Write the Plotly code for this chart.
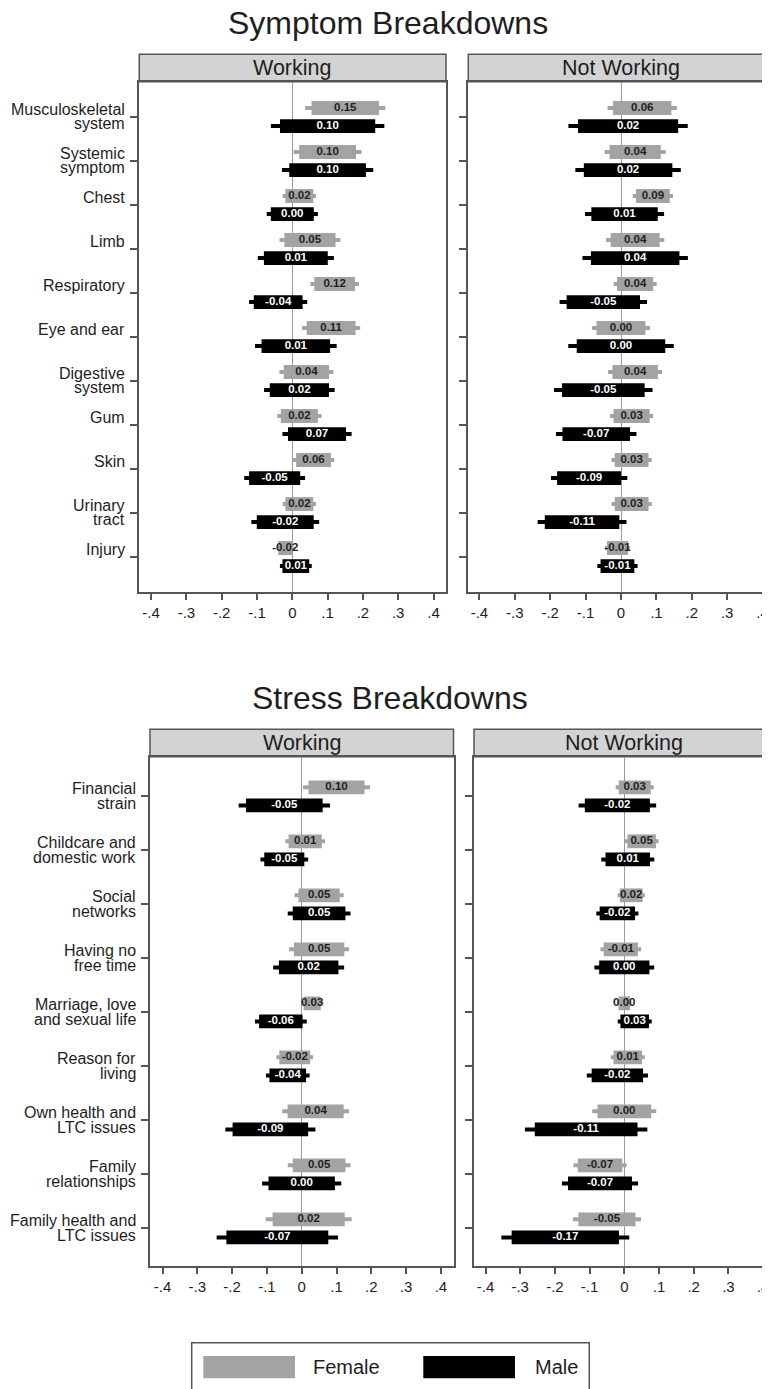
import plotly.graph_objects as go

# The page body has an 8px margin, so the figure is offset by (8, 8).
OX, OY = 8, 8
W, H = 762, 1381

# ---------------- data ----------------
sym_labels = ["Musculoskeletal<br>system", "Systemic<br>symptom", "Chest", "Limb",
              "Respiratory", "Eye and ear", "Digestive<br>system", "Gum", "Skin",
              "Urinary<br>tract", "Injury"]

sym_work_f_est = [0.15, 0.10, 0.02, 0.05, 0.12, 0.11, 0.04, 0.02, 0.06, 0.02, -0.02]
sym_work_f_se = [0.058, 0.049, 0.024, 0.044, 0.035, 0.042, 0.039, 0.032, 0.030, 0.024, 0.012]
sym_work_m_est = [0.10, 0.10, 0.00, 0.01, -0.04, 0.01, 0.02, 0.07, -0.05, -0.02, 0.01]
sym_work_m_se = [0.082, 0.066, 0.037, 0.055, 0.042, 0.059, 0.051, 0.050, 0.044, 0.049, 0.023]

sym_nw_f_est = [0.06, 0.04, 0.09, 0.04, 0.04, 0.00, 0.04, 0.03, 0.03, 0.03, -0.01]
sym_nw_f_se = [0.050, 0.044, 0.029, 0.042, 0.031, 0.042, 0.039, 0.031, 0.029, 0.029, 0.018]
sym_nw_m_est = [0.02, 0.02, 0.01, 0.04, -0.05, 0.00, -0.05, -0.07, -0.09, -0.11, -0.01]
sym_nw_m_se = [0.086, 0.076, 0.057, 0.076, 0.063, 0.076, 0.071, 0.058, 0.055, 0.064, 0.029]

str_labels = ["Financial<br>strain", "Childcare and<br>domestic work", "Social<br>networks",
              "Having no<br>free time", "Marriage, love<br>and sexual life", "Reason for<br>living",
              "Own health and<br>LTC issues", "Family<br>relationships",
              "Family health and<br>LTC issues"]

str_work_f_est = [0.10, 0.01, 0.05, 0.05, 0.03, -0.02, 0.04, 0.05, 0.02]
str_work_f_se = [0.049, 0.029, 0.036, 0.044, 0.015, 0.027, 0.049, 0.046, 0.063]
str_work_m_est = [-0.05, -0.05, 0.05, 0.02, -0.06, -0.04, -0.09, 0.00, -0.07]
str_work_m_se = [0.067, 0.035, 0.046, 0.052, 0.038, 0.032, 0.066, 0.058, 0.089]

str_nw_f_est = [0.03, 0.05, 0.02, -0.01, 0.00, 0.01, 0.00, -0.07, -0.05]
str_nw_f_se = [0.028, 0.025, 0.020, 0.030, 0.010, 0.025, 0.047, 0.039, 0.050]
str_nw_m_est = [-0.02, 0.01, -0.02, 0.00, 0.03, -0.02, -0.11, -0.07, -0.17]
str_nw_m_se = [0.057, 0.039, 0.031, 0.044, 0.025, 0.045, 0.090, 0.056, 0.094]

x_tickvals = [-0.4, -0.3, -0.2, -0.1, 0, 0.1, 0.2, 0.3, 0.4]
x_ticktext = ["-.4", "-.3", "-.2", "-.1", "0", ".1", ".2", ".3", ".4"]

titles = ["Symptom Breakdowns", "Stress Breakdowns"]
strip_names = ["Working", "Not Working"]
legend_names = ["Female", "Male"]

# ---------------- style ----------------
FONT = "Liberation Sans, Arial, sans-serif"
GRAY = "#a3a3a3"
BLACK = "#000000"
AXC = "#555555"
TXT = "#1e1e1e"
Z90, Z95 = 1.645, 1.96


def px(x):
    return (x - OX) / W


def py(y):
    return 1 - (y - OY) / H


panels = [
    dict(strip=strip_names[0], labels=sym_labels, fe=sym_work_f_est, fs=sym_work_f_se,
         me=sym_work_m_est, ms=sym_work_m_se, x0=139.3, x1=446.0, zero=292.3, ppu=353.0,
         top=81.7, bot=591.7, row0=116.7, gap=44.0, strip_top=54.3, left=True, lab_right=127.0),
    dict(strip=strip_names[1], labels=sym_labels, fe=sym_nw_f_est, fs=sym_nw_f_se,
         me=sym_nw_m_est, ms=sym_nw_m_se, x0=468.3, x1=770.0, zero=621.0, ppu=354.0,
         top=81.7, bot=591.7, row0=116.7, gap=44.0, strip_top=54.3, left=False),
    dict(strip=strip_names[0], labels=str_labels, fe=str_work_f_est, fs=str_work_f_se,
         me=str_work_m_est, ms=str_work_m_se, x0=150.0, x1=453.5, zero=301.7, ppu=348.0,
         top=756.7, bot=1265.7, row0=796.0, gap=54.0, strip_top=729.3, left=True, lab_right=138.0),
    dict(strip=strip_names[1], labels=str_labels, fe=str_nw_f_est, fs=str_nw_f_se,
         me=str_nw_m_est, ms=str_nw_m_se, x0=474.0, x1=770.0, zero=624.3, ppu=347.0,
         top=756.7, bot=1265.7, row0=796.0, gap=54.0, strip_top=729.3, left=False),
]

fig = go.Figure()
layout = dict(width=W, height=H, margin=dict(l=0, r=0, t=0, b=0),
              paper_bgcolor="white", plot_bgcolor="white", showlegend=False,
              barmode="overlay", font=dict(family=FONT, color=TXT))
shapes = []
annotations = []

for i, p in enumerate(panels, start=1):
    xa = "x" if i == 1 else f"x{i}"
    ya = "y" if i == 1 else f"y{i}"
    n = len(p["labels"])
    pos = list(range(1, n + 1))
    gap = p["gap"]
    off_f = -8.7 / gap
    off_m = 9.4 / gap
    w_thick = 13.8 / gap
    w_thin = 4.0 / gap

    for est, se, off, col, tcol in [(p["fe"], p["fs"], off_f, GRAY, TXT),
                                    (p["me"], p["ms"], off_m, BLACK, "white")]:
        yy = [k + off for k in pos]
        lo95 = [e - Z95 * s for e, s in zip(est, se)]
        lo90 = [e - Z90 * s for e, s in zip(est, se)]
        fig.add_trace(go.Bar(orientation="h", y=yy, base=lo95,
                             x=[2 * Z95 * s for s in se], width=w_thin,
                             marker=dict(color=col, line=dict(width=0)),
                             xaxis=xa, yaxis=ya, hoverinfo="skip"))
        fig.add_trace(go.Bar(orientation="h", y=yy, base=lo90,
                             x=[2 * Z90 * s for s in se], width=w_thick,
                             marker=dict(color=col, line=dict(width=0)),
                             xaxis=xa, yaxis=ya, hoverinfo="skip"))
        fig.add_trace(go.Scatter(x=est, y=yy, mode="text",
                                 text=[f"{e:.2f}" for e in est],
                                 textposition="middle center",
                                 textfont=dict(family=FONT, size=11.5, color=tcol, weight=700),
                                 xaxis=xa, yaxis=ya, cliponaxis=False, hoverinfo="skip"))

    xr = [(p["x0"] - p["zero"]) / p["ppu"], (p["x1"] - p["zero"]) / p["ppu"]]
    yr = [n + (p["bot"] - (p["row0"] + (n - 1) * gap)) / gap, 1 - (p["row0"] - p["top"]) / gap]

    key_x = "xaxis" if i == 1 else f"xaxis{i}"
    key_y = "yaxis" if i == 1 else f"yaxis{i}"
    layout[key_x] = dict(domain=[px(p["x0"]), min(px(p["x1"]), 1.0)], anchor=ya, range=xr,
                         showgrid=False, zeroline=True, zerolinecolor="#9a9a9a", zerolinewidth=1,
                         showline=True, linecolor=AXC, linewidth=2, mirror=True,
                         ticks="outside", ticklen=6, tickwidth=1.5, tickcolor=AXC,
                         tickvals=x_tickvals, ticktext=x_ticktext,
                         tickfont=dict(family=FONT, size=15, color=TXT), fixedrange=True)
    layout[key_y] = dict(domain=[py(p["bot"]), py(p["top"])], anchor=xa, range=yr,
                         showgrid=False, zeroline=False,
                         showline=True, linecolor=AXC, linewidth=2, mirror=p["left"],
                         ticks="outside", ticklen=7, tickwidth=1.5, tickcolor=AXC,
                         tickvals=pos, showticklabels=False, fixedrange=True)

    # strip
    shapes.append(dict(type="rect", xref="paper", yref="paper",
                       x0=px(p["x0"]), x1=px(p["x1"] + (0 if p["left"] else 5)),
                       y0=py(p["top"]), y1=py(p["strip_top"]),
                       fillcolor="#d3d3d3", line=dict(color=AXC, width=1.5), layer="below"))
    annotations.append(dict(xref="paper", yref="paper", x=px(p["zero"]),
                            y=py((p["top"] + p["strip_top"]) / 2), text=p["strip"],
                            showarrow=False, xanchor="center", yanchor="middle",
                            font=dict(family=FONT, size=21.5, color=TXT)))

    # category labels (Stata-style two-line labels)
    if p["left"]:
        for k, lab in zip(pos, p["labels"]):
            lines = lab.split("<br>")
            if len(lines) == 1:
                lines = [lines[0], ""]
            for j, ln in enumerate(lines):
                if not ln:
                    continue
                annotations.append(dict(xref="paper", yref=ya, x=px(p["lab_right"]), y=k,
                                        yshift=7.2 if j == 0 else -7.2, text=ln,
                                        showarrow=False, xanchor="right", yanchor="middle",
                                        font=dict(family=FONT, size=16, color=TXT)))

# titles
annotations.append(dict(xref="paper", yref="paper", x=px(388), y=py(23), text=titles[0],
                        showarrow=False, xanchor="center", yanchor="middle",
                        font=dict(family=FONT, size=32, color=TXT)))
annotations.append(dict(xref="paper", yref="paper", x=px(390), y=py(698), text=titles[1],
                        showarrow=False, xanchor="center", yanchor="middle",
                        font=dict(family=FONT, size=32, color=TXT)))

# legend
shapes.append(dict(type="rect", xref="paper", yref="paper", x0=px(191.7), x1=px(589.3),
                   y0=py(1400), y1=py(1342.7), fillcolor="white",
                   line=dict(color=AXC, width=1.5), layer="below"))
shapes.append(dict(type="rect", xref="paper", yref="paper", x0=px(203.3), x1=px(295),
                   y0=py(1378.3), y1=py(1356), fillcolor=GRAY, line=dict(width=0)))
shapes.append(dict(type="rect", xref="paper", yref="paper", x0=px(423.3), x1=px(515),
                   y0=py(1378.3), y1=py(1356), fillcolor=BLACK, line=dict(width=0)))
annotations.append(dict(xref="paper", yref="paper", x=px(311), y=py(1367), text=legend_names[0],
                        showarrow=False, xanchor="left", yanchor="middle",
                        font=dict(family=FONT, size=20, color=TXT)))
annotations.append(dict(xref="paper", yref="paper", x=px(533), y=py(1367), text=legend_names[1],
                        showarrow=False, xanchor="left", yanchor="middle",
                        font=dict(family=FONT, size=20, color=TXT)))

layout["shapes"] = shapes
layout["annotations"] = annotations
fig.update_layout(**layout)

fig.write_html("out.html")
